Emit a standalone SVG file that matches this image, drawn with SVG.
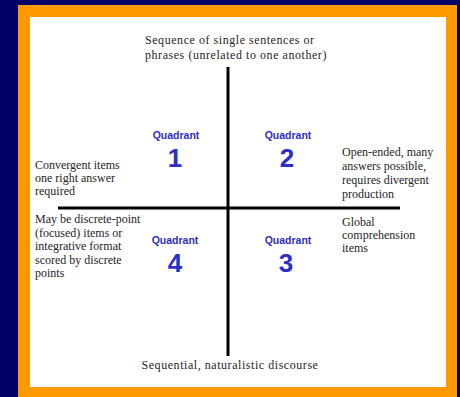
<svg xmlns="http://www.w3.org/2000/svg" width="460" height="397" viewBox="0 0 460 397">
<style>
.t{font-family:"Liberation Serif","Times New Roman",serif;font-size:12px;fill:#262626}
.w{letter-spacing:0.55px}
.q{font-family:"Liberation Sans",Arial,sans-serif;font-size:10.5px;font-weight:bold;fill:#2d2dc8;text-anchor:middle}
.n{font-family:"Liberation Sans",Arial,sans-serif;font-size:26px;font-weight:bold;fill:#2d2dc8;text-anchor:middle}
.ax{stroke:#000;stroke-width:3}
</style>
<rect x="0" y="0" width="460" height="397" fill="#000066"/>
<rect x="18" y="5" width="439" height="392" fill="#ff9900"/>
<rect x="30" y="17" width="416" height="370" fill="#ffffff"/>
<g id="connectors">
<line class="ax" x1="228" y1="67" x2="228" y2="356"/>
<line class="ax" x1="58" y1="208" x2="400" y2="208"/>
</g>
<g id="top-label"><text class="t w" x="145" y="44">Sequence of single sentences or</text><text class="t w" x="145" y="59">phrases (unrelated to one another)</text></g>
<g id="bottom-label"><text class="t w" x="230" y="369" text-anchor="middle">Sequential, naturalistic discourse</text></g>
<g id="left-top-label"><text class="t" x="35" y="169">Convergent items</text><text class="t" x="35" y="182">one right answer</text><text class="t" x="35" y="195">required</text></g>
<g id="left-bottom-label"><text class="t" x="35" y="223">May be discrete-point</text><text class="t" x="35" y="237">(focused) items or</text><text class="t" x="35" y="250">integrative format</text><text class="t" x="35" y="264">scored by discrete</text><text class="t" x="35" y="277">points</text></g>
<g id="right-top-label"><text class="t" x="342" y="156">Open-ended, many</text><text class="t" x="342" y="170">answers possible,</text><text class="t" x="342" y="184">requires divergent</text><text class="t" x="342" y="198">production</text></g>
<g id="right-bottom-label"><text class="t" x="342" y="226">Global</text><text class="t" x="342" y="239">comprehension</text><text class="t" x="342" y="252">items</text></g>
<g id="quadrant-1"><text class="q" x="176" y="139">Quadrant</text><text class="n" x="175" y="167">1</text></g>
<g id="quadrant-2"><text class="q" x="288" y="139">Quadrant</text><text class="n" x="287" y="167">2</text></g>
<g id="quadrant-4"><text class="q" x="175" y="244">Quadrant</text><text class="n" x="175" y="272">4</text></g>
<g id="quadrant-3"><text class="q" x="288" y="244">Quadrant</text><text class="n" x="286" y="272">3</text></g>
</svg>
